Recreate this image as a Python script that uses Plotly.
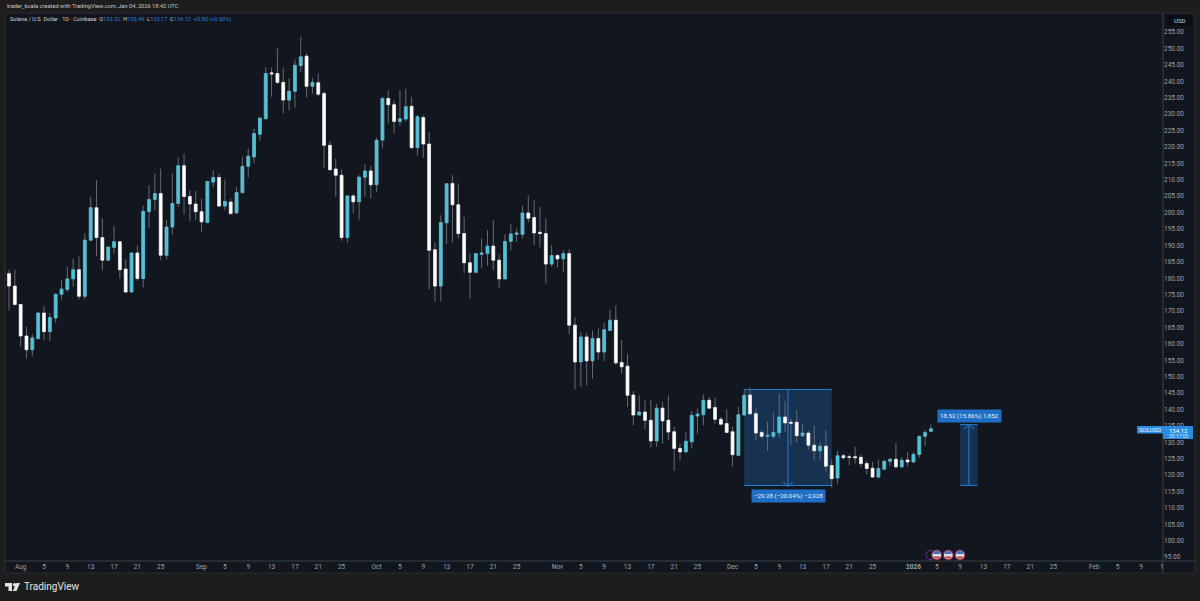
import pandas as pd
import plotly.graph_objects as go

# SOL/USD daily candles
dates = pd.date_range("2025-07-29", "2026-01-04", freq="D")

opens = [182.9, 181.4, 177.6, 172.0, 162.4, 158.2, 161.6, 169.4, 163.7, 167.9,
         175.1, 176.6, 179.8, 182.6, 174.5, 191.6, 201.5, 192.4, 185.5, 189.4,
         191.1, 182.8, 175.8, 187.7, 179.9, 200.3, 204.0, 205.8, 187.0, 195.6,
         202.8, 214.3, 204.9, 202.6, 200.3, 197.0, 209.3, 210.7, 202.0, 203.2,
         199.9, 206.1, 214.1, 217.0, 223.9, 228.6, 242.6, 242.4, 239.7, 234.3,
         237.0, 244.8, 247.7, 238.5, 239.6, 236.3, 220.5, 213.3, 211.4, 192.4,
         205.1, 203.3, 210.8, 212.7, 208.5, 222.1, 234.8, 232.9, 227.8, 228.5,
         232.4, 219.8, 229.0, 220.9, 188.7, 177.6, 196.9, 208.9, 202.4, 193.6,
         184.7, 181.8, 187.3, 187.5, 189.8, 185.5, 179.8, 191.2, 193.4, 193.4,
         199.9, 198.5, 194.0, 193.6, 184.3, 186.9, 185.9, 187.5, 165.7, 154.5,
         162.1, 154.8, 161.6, 157.5, 164.1, 167.2, 154.3, 153.2, 144.4, 138.3,
         139.2, 136.7, 130.4, 140.4, 136.7, 133.2, 128.1, 127.05, 130.1, 138.0,
         138.4, 142.8, 140.6, 137.0, 135.7, 133.2, 126.0, 138.3, 144.4, 138.7,
         133.0, 131.8, 131.8, 132.9, 137.7, 136.1, 136.1, 132.0, 132.8, 129.1,
         127.4, 128.8, 122.9, 119.1, 125.9, 125.6, 125.6, 125.4, 123.5, 122.1,
         119.4, 121.8, 124.2, 124.8, 122.5, 124.6, 124.0, 126.3, 131.8, 133.32]

highs = [183.0, 182.6, 182.6, 172.2, 165.2, 162.9, 169.6, 171.6, 169.4, 175.3,
         179.4, 183.4, 186.0, 186.7, 193.6, 204.8, 209.9, 198.2, 189.7, 196.0,
         191.3, 185.8, 187.9, 189.9, 202.0, 208.3, 211.9, 213.4, 197.7, 211.9,
         216.8, 218.0, 206.8, 206.6, 204.3, 209.7, 212.9, 211.9, 210.1, 204.3,
         207.8, 217.0, 219.5, 225.6, 229.0, 244.4, 244.2, 250.0, 244.2, 240.9,
         246.7, 253.6, 248.5, 241.2, 242.4, 237.1, 221.8, 216.4, 213.1, 205.3,
         205.6, 211.4, 214.8, 214.2, 222.9, 235.3, 237.3, 234.1, 237.3, 237.8,
         235.3, 229.7, 229.7, 224.6, 190.9, 199.2, 208.9, 211.4, 208.9, 198.7,
         187.5, 187.7, 192.1, 194.6, 197.7, 187.3, 193.4, 196.5, 195.1, 202.0,
         205.3, 203.8, 201.7, 198.2, 190.1, 187.3, 188.5, 188.7, 168.0, 163.6,
         163.3, 164.1, 164.7, 166.4, 170.4, 171.8, 161.1, 157.0, 145.6, 144.3,
         143.0, 143.0, 141.8, 142.3, 144.3, 134.7, 129.6, 133.1, 139.5, 140.3,
         144.6, 143.8, 143.6, 137.7, 140.0, 134.7, 140.8, 145.9, 146.7, 140.3,
         133.7, 136.2, 139.0, 144.8, 142.6, 137.2, 139.8, 135.7, 133.5, 135.2,
         130.1, 133.7, 124.9, 127.4, 126.5, 126.3, 128.6, 126.3, 124.3, 124.0,
         124.7, 124.7, 125.3, 129.8, 125.5, 127.0, 127.0, 132.1, 133.7, 135.49]

lows = [181.2, 170.2, 171.7, 159.1, 155.5, 156.2, 161.3, 161.1, 160.9, 166.4,
        173.5, 175.8, 177.4, 173.5, 173.5, 191.4, 186.7, 182.4, 185.3, 187.3,
        179.9, 175.6, 175.6, 179.2, 177.2, 195.3, 200.7, 185.5, 185.7, 193.4,
        201.7, 199.5, 197.5, 197.7, 194.1, 196.7, 207.8, 201.7, 200.7, 199.4,
        199.7, 205.8, 210.7, 215.0, 221.9, 228.4, 235.3, 239.3, 230.2, 231.2,
        232.0, 242.9, 235.1, 236.3, 235.6, 213.7, 212.7, 204.8, 191.4, 190.8,
        199.7, 197.9, 204.8, 204.3, 206.3, 219.5, 227.2, 224.1, 226.5, 227.7,
        219.6, 217.4, 216.7, 176.6, 172.8, 172.9, 190.4, 190.9, 192.1, 181.6,
        173.8, 181.6, 183.1, 183.8, 182.4, 177.2, 179.6, 188.5, 191.1, 192.1,
        197.0, 190.1, 189.4, 178.4, 183.5, 183.3, 181.9, 162.9, 146.1, 146.9,
        147.4, 149.4, 155.2, 154.8, 163.9, 153.5, 150.9, 140.8, 135.2, 138.2,
        133.9, 128.4, 128.6, 129.6, 130.6, 121.3, 124.5, 126.9, 128.1, 132.6,
        135.2, 140.2, 135.7, 135.2, 132.8, 122.7, 125.7, 138.0, 138.2, 130.6,
        131.1, 127.4, 131.1, 131.4, 133.2, 129.1, 129.9, 131.6, 127.8, 124.5,
        124.5, 121.0, 116.2, 117.4, 124.8, 123.0, 123.5, 122.3, 120.2, 119.2,
        118.9, 121.5, 122.7, 122.0, 122.0, 122.7, 123.7, 125.3, 128.8, 133.17]

closes = [181.2, 177.6, 172.0, 162.4, 158.2, 161.8, 169.4, 163.7, 168.0, 175.1,
          176.7, 179.8, 182.6, 174.5, 191.6, 201.5, 192.4, 185.5, 189.5, 191.1,
          182.6, 175.8, 187.7, 179.9, 200.4, 204.0, 205.8, 187.0, 195.6, 202.8,
          214.3, 204.9, 202.6, 200.3, 197.2, 209.5, 210.7, 202.0, 203.4, 199.7,
          206.1, 214.1, 217.2, 224.1, 228.8, 242.4, 242.3, 239.7, 234.3, 237.0,
          244.9, 247.5, 238.5, 239.7, 236.1, 220.5, 213.1, 211.4, 192.4, 205.1,
          203.3, 210.8, 212.7, 208.5, 222.1, 234.8, 232.9, 227.8, 228.6, 232.3,
          219.8, 229.2, 220.9, 188.5, 177.6, 197.0, 208.8, 202.4, 193.6, 184.7,
          181.8, 187.5, 187.7, 189.8, 185.5, 179.8, 191.2, 193.5, 193.8, 199.9,
          198.3, 193.8, 193.6, 184.3, 186.9, 185.9, 187.5, 165.7, 154.5, 162.1,
          154.8, 161.6, 157.5, 164.3, 167.2, 154.2, 153.0, 144.3, 138.3, 139.2,
          136.7, 130.4, 140.4, 136.5, 133.1, 128.1, 127.05, 130.3, 138.2, 138.6,
          142.8, 140.4, 137.0, 135.5, 133.0, 126.2, 138.4, 144.3, 138.7, 132.8,
          131.8, 132.1, 133.0, 137.7, 135.9, 135.8, 132.0, 132.8, 129.1, 127.4,
          128.8, 122.7, 118.9, 125.9, 125.3, 125.4, 125.3, 123.5, 122.0, 119.4,
          122.0, 124.2, 124.8, 122.5, 124.5, 124.0, 126.3, 131.8, 133.0, 134.12]

price_ticks = list(range(95, 256, 5))
date_ticks = ["2025-08-01", "2025-08-05", "2025-08-09", "2025-08-13", "2025-08-17", "2025-08-21", "2025-08-25",
              "2025-09-01", "2025-09-05", "2025-09-09", "2025-09-13", "2025-09-17", "2025-09-21", "2025-09-25",
              "2025-10-01", "2025-10-05", "2025-10-09", "2025-10-13", "2025-10-17", "2025-10-21", "2025-10-25",
              "2025-11-01", "2025-11-05", "2025-11-09", "2025-11-13", "2025-11-17", "2025-11-21", "2025-11-25",
              "2025-12-01", "2025-12-05", "2025-12-09", "2025-12-13", "2025-12-17", "2025-12-21", "2025-12-25",
              "2026-01-01", "2026-01-05", "2026-01-09", "2026-01-13", "2026-01-17", "2026-01-21", "2026-01-25",
              "2026-02-01", "2026-02-05", "2026-02-09"]
date_labels = ["Aug", "5", "9", "13", "17", "21", "25",
               "Sep", "5", "9", "13", "17", "21", "25",
               "Oct", "5", "9", "13", "17", "21", "25",
               "Nov", "5", "9", "13", "17", "21", "25",
               "Dec", "5", "9", "13", "17", "21", "25",
               "<b>2026</b>", "5", "9", "13", "17", "21", "25",
               "Feb", "5", "9"]

BG = "#11161f"
OUTER = "#1d1d1d"
AXIS = "#3b4048"
CYAN = "#4fc3d9"
WHITE = "#ffffff"
WICK = "#666b73"
BLUE = "#2a7fd6"
TXT = "#9ea3aa"
FONT = "Roboto"

# plot area in page pixels
L, R, T, B = 5, 1163, 13, 561


def px(x, y):
    return (x - L) / (R - L), (B - y) / (B - T)


def rect_px(x0, y0, x1, y1, **kw):
    a, b = px(x0, y0)
    c, d = px(x1, y1)
    return dict(type="rect", xref="paper", yref="paper", x0=a, y0=b, x1=c, y1=d, **kw)


def circle_px(cx, cy, r, **kw):
    return rect_px(cx - r, cy - r, cx + r, cy + r, **kw) | dict(type="circle")


def path_px(points, close=False, **kw):
    s = ""
    for i, (x, y) in enumerate(points):
        a, b = px(x, y)
        s += ("M" if i == 0 else "L") + f"{a:.5f},{b:.5f} "
    if close:
        s += "Z"
    return dict(type="path", xref="paper", yref="paper", path=s, **kw)


def text_px(x, y, text, size=6.5, color=TXT, anchor="left", **kw):
    a, b = px(x, y)
    return dict(xref="paper", yref="paper", x=a, y=b, text=text, showarrow=False, xanchor=anchor,
                yanchor="middle", font=dict(family=FONT, size=size, color=color), **kw)


fig = go.Figure()

# wicks first, then bodies on top
fig.add_trace(go.Candlestick(x=dates, open=opens, high=highs, low=lows, close=closes,
                             increasing=dict(line=dict(color=WICK, width=1), fillcolor=WICK),
                             decreasing=dict(line=dict(color=WICK, width=1), fillcolor=WICK),
                             hoverinfo="skip", showlegend=False))
fig.add_trace(go.Candlestick(x=dates, open=opens, close=closes,
                             high=[max(a, b) for a, b in zip(opens, closes)],
                             low=[min(a, b) for a, b in zip(opens, closes)],
                             increasing=dict(line=dict(color=CYAN, width=0.5), fillcolor=CYAN),
                             decreasing=dict(line=dict(color=WHITE, width=0.5), fillcolor=WHITE),
                             hoverinfo="skip", showlegend=False))

shapes = [
    rect_px(L, T, 1195, 573, fillcolor=BG, line=dict(color="#2a2e35", width=1), layer="below"),
    # axis separators
    path_px([(R, T), (R, 573)], line=dict(color=AXIS, width=1)),
    path_px([(L, B), (1195, B)], line=dict(color=AXIS, width=1)),
    # date / price range boxes
    dict(type="rect", xref="x", yref="y", x0="2025-12-03", x1="2025-12-18", y0=116.82, y1=146.1,
         fillcolor="rgba(38,110,185,0.32)", line=dict(width=0), layer="below"),
    dict(type="rect", xref="x", yref="y", x0="2026-01-09", x1="2026-01-12", y0=116.85, y1=135.37,
         fillcolor="rgba(38,110,185,0.32)", line=dict(width=0), layer="below"),
]
for x0, x1, y0, y1 in [("2025-12-03", "2025-12-18", 116.82, 146.1), ("2026-01-09", "2026-01-12", 116.85, 135.37)]:
    for y in (y0, y1):
        shapes.append(dict(type="line", xref="x", yref="y", x0=x0, x1=x1, y0=y, y1=y,
                           line=dict(color=BLUE, width=1), layer="below"))
for xc, y0, y1 in [("2025-12-10 12:00", 116.82, 146.1), ("2026-01-10 12:00", 116.85, 135.37)]:
    shapes.append(dict(type="line", xref="x", yref="y", x0=xc, x1=xc, y0=y0, y1=y1,
                       line=dict(color=BLUE, width=1), layer="below"))
# arrow heads
shapes.append(path_px([(783, 482), (788, 486.5), (793, 482)], line=dict(color=BLUE, width=1)))
shapes.append(path_px([(964, 429), (969, 424.5), (974, 429)], line=dict(color=BLUE, width=1)))

# last price tags
shapes.append(rect_px(1137, 426, 1163, 433.5, fillcolor="#2a8be0", line=dict(width=0)))
shapes.append(rect_px(1163, 426, 1193, 439, fillcolor="#2a8be0", line=dict(width=0)))
# USD button
shapes.append(rect_px(1166, 15, 1192, 25.5, fillcolor="#0b0e14", line=dict(width=0)))

# event markers
shapes.append(circle_px(930.5, 555, 4.5, fillcolor=BG, line=dict(color="#6d3a98", width=1)))
for cx in (936.7, 948.3, 960):
    shapes.append(circle_px(cx, 555, 5, fillcolor="#d9dce6", line=dict(color="#7c1f35", width=1.2)))
    shapes.append(path_px([(cx - 3.6, 554), (cx - 2.5, 551.6), (cx, 550.8), (cx + 2.5, 551.6), (cx + 3.6, 554)],
                          close=True, fillcolor="#3c6fc4", line=dict(width=0)))
    shapes.append(path_px([(cx - 3.5, 556.6), (cx + 3.5, 556.6), (cx + 2, 558.6), (cx - 2, 558.6)],
                          close=True, fillcolor="#c23b4c", line=dict(width=0)))

# TradingView logo
logo = "#e4e4e4"
shapes.append(path_px([(5, 583), (12, 583), (12, 591), (8.5, 591), (8.5, 586.6), (5, 586.6)], close=True,
                      fillcolor=logo, line=dict(width=0)))
shapes.append(circle_px(14.6, 584.8, 1.8, fillcolor=logo, line=dict(width=0)))
shapes.append(path_px([(20, 583), (16.5, 591), (12.8, 591), (16.3, 583)], close=True,
                      fillcolor=logo, line=dict(width=0)))

v = f'<span style="color:{BLUE}">'
annotations = [
    text_px(5, 6, "trader_koala created with TradingView.com, Jan 04, 2026 18:42 UTC", size=5.7, color="#c8c8c8"),
    text_px(8, 19, f"Solana / U.S. Dollar · 1D · Coinbase  O{v}133.32</span>  H{v}135.49</span>  "
                   f"L{v}133.17</span>  C{v}134.12</span>  {v}+0.80 (+0.60%)</span>", size=5.6, color="#d0d3d8"),
    text_px(1179, 20.3, "USD", size=6, color="#d0d3d8", anchor="center"),
    text_px(1150, 429.8, "SOLUSD", size=6, color="#e6f2ff", anchor="center"),
    text_px(1178, 430, "134.12", size=6, color="#ffffff", anchor="center"),
    text_px(1178, 435.8, "00:17:05", size=5, color="#cfe5fb", anchor="center"),
    text_px(788, 496, "−29.28 (−20.04%) −2,928", size=6.2, color="#e6f2ff", anchor="center",
            bgcolor="#1f6fc4", borderpad=2),
    text_px(969, 415.5, "18.52 (15.86%) 1,852", size=6.2, color="#e6f2ff", anchor="center",
            bgcolor="#1f6fc4", borderpad=2),
    text_px(1162, 567, "1", size=6.5, anchor="center"),
    text_px(22, 587, "TradingView", size=10, color="#e4e4e4"),
]

fig.update_layout(
    width=1200, height=601,
    margin=dict(l=L, r=1200 - R, t=T, b=601 - B, pad=0),
    paper_bgcolor=OUTER, plot_bgcolor="rgba(0,0,0,0)",
    showlegend=False, shapes=shapes, annotations=annotations,
    font=dict(family=FONT, size=6.5, color=TXT),
    xaxis=dict(type="date", range=["2025-07-29 07:35", "2026-02-12 18:30"], rangeslider=dict(visible=False),
               tickmode="array", tickvals=date_ticks, ticktext=date_labels, tickangle=0, ticks="",
               showgrid=False, zeroline=False, showline=False, tickfont=dict(size=6.5, color=TXT)),
    yaxis=dict(side="right", range=[93.8, 260.85], tickmode="array", tickvals=price_ticks,
               ticktext=[f"{p:.2f}" for p in price_ticks], ticks="", showgrid=False, zeroline=False,
               showline=False, tickfont=dict(size=6.5, color=TXT)),
)

# the page's default body margin would push the figure 8px off
fig.write_html("out.html", config=dict(displayModeBar=False),
               post_script="document.body.style.margin='0';document.documentElement.style.background='#1d1d1d';")
